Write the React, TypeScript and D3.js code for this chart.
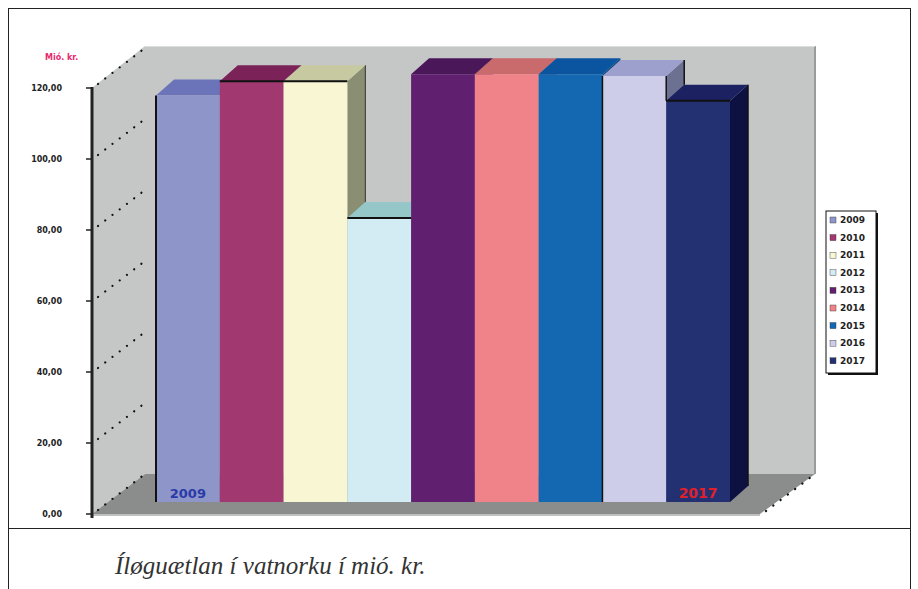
import React from "react";
import * as d3 from "d3";

// Annual hydropower investment, million kr.
const years = ["2009", "2010", "2011", "2012", "2013", "2014", "2015", "2016", "2017"];
const values = [114.5, 118.5, 118.5, 80, 120.5, 120.5, 120.5, 120, 113];
const tickValues = [0, 20, 40, 60, 80, 100, 120];
const tickLabels = ["0,00", "20,00", "40,00", "60,00", "80,00", "100,00", "120,00"];

const frontColors = ["#8e95c9", "#a1386f", "#f9f6d3", "#d3ecf3", "#61206f", "#f08289", "#1468b1", "#cdcde9", "#233172"];
const topColors = ["#6b74b9", "#7b2259", "#c7c9a1", "#95c7c9", "#4a1858", "#c96a6d", "#0b55a0", "#9da0cc", "#1b2161"];
const sideColors = ["#5d6399", "#621b46", "#8a8e72", "#7aa4a6", "#3a1247", "#a85658", "#084680", "#6d7191", "#0d1141"];

const W = 918;
const H = 589;

export default function App() {
  // front plane of the plot box
  const axisX = 92;
  const y = d3.scaleLinear().domain([0, 120]).range([514, 88]);
  // depth of the whole plot box
  const boxDx = 53;
  const boxDy = -40;
  const floorRightX = 760;
  // bars sit partway into the box
  const barShift = { dx: 0, dy: -12 };
  const barDx = 18;
  const barDy = -16;
  const x = d3.scaleBand<string>().domain(years).range([156, 730]).padding(0);
  const by = (v: number) => y(v) + barShift.dy;

  const wallTop = y(120) + boxDy - 2;
  const backX0 = axisX + boxDx;
  const backX1 = floorRightX + 55;
  const floorBack = y(0) + boxDy;

  const pts = (p: [number, number][]) => p.map((q) => q.join(",")).join(" ");

  const dotted = (x1: number, y1: number, x2: number, y2: number, key: string) => (
    <line key={key} x1={x1} y1={y1} x2={x2} y2={y2} stroke="#111" strokeWidth={2.2}
      strokeDasharray="0.1 9" strokeLinecap="round" />
  );

  const legendX = 826;
  const legendY = 211;
  const legendRow = 17.6;

  return (
    <div style={{ position: "absolute", left: 0, top: 0, width: W, height: H }}>
      <svg width={W} height={H} style={{ display: "block", background: "#fff" }}>
        {/* frame */}
        <line x1={8} y1={8.5} x2={911} y2={8.5} stroke="#222" strokeWidth={1} />
        <line x1={8.5} y1={8} x2={8.5} y2={H} stroke="#222" strokeWidth={1} />
        <line x1={910.5} y1={8} x2={910.5} y2={H} stroke="#222" strokeWidth={1} />
        <line x1={8} y1={528.5} x2={911} y2={528.5} stroke="#222" strokeWidth={1} />

        {/* side wall */}
        <polygon points={pts([[axisX, y(120)], [backX0, wallTop], [backX0, floorBack], [axisX, y(0)]])} fill="#c5c7c7" />
        {/* back wall */}
        <polygon points={pts([[backX0, wallTop], [backX1, wallTop], [backX1, floorBack], [backX0, floorBack]])} fill="#c5c7c7" />
        <line x1={backX1} y1={wallTop} x2={backX1} y2={floorBack} stroke="#9a9c9c" strokeWidth={2} />
        <line x1={backX0} y1={wallTop + 0.5} x2={backX1} y2={wallTop + 0.5} stroke="#dcdede" strokeWidth={1} />
        {/* floor */}
        <polygon points={pts([[axisX, y(0)], [floorRightX, y(0)], [backX1, floorBack], [backX0, floorBack]])} fill="#8b8d8d" />
        <line x1={axisX} y1={y(0) + 1} x2={floorRightX} y2={y(0) + 1} stroke="#a8aaaa" strokeWidth={1.5} />

        {/* gridlines along the side wall */}
        {tickValues.map((t) => dotted(axisX + 6, y(t) - 4, backX0, y(t) + boxDy, "g" + t))}
        {dotted(floorRightX + 6, y(0) - 3, backX1, floorBack, "fr")}

        {/* bars */}
        {years.map((yr, i) => {
          const x0 = x(yr)!;
          const x1 = x0 + x.bandwidth();
          const top = by(values[i]);
          const base = by(0);
          return (
            <g key={yr}>
              <polygon points={pts([[x1, base], [x1 + barDx, base + barDy], [x1 + barDx, top + barDy], [x1, top]])} fill={sideColors[i]} />
              <polygon points={pts([[x0, top], [x0 + barDx, top + barDy], [x1 + barDx, top + barDy], [x1, top]])} fill={topColors[i]} />
              <rect x={x0} y={top} width={x.bandwidth()} height={base - top} fill={frontColors[i]} />
            </g>
          );
        })}
        {/* dark bar edges */}
        {(() => {
          const e: React.ReactNode[] = [];
          const x0 = x("2009")!;
          e.push(<line key="e1" x1={x0} y1={by(values[0])} x2={x0} y2={by(0)} stroke="#111" strokeWidth={2} />);
          e.push(<line key="e2" x1={x("2010")!} y1={by(values[1])} x2={x("2011")! + x.bandwidth()} y2={by(values[2])} stroke="#111" strokeWidth={2} />);
          e.push(<line key="e3" x1={x("2012")!} y1={by(values[3])} x2={x("2012")! + x.bandwidth()} y2={by(values[3])} stroke="#111" strokeWidth={2} />);
          e.push(<line key="e4" x1={x("2016")!} y1={by(values[7])} x2={x("2016")!} y2={by(0)} stroke="#111" strokeWidth={1.5} />);
          e.push(<line key="e5" x1={x("2016")! + x.bandwidth()} y1={by(values[7])} x2={x("2016")! + x.bandwidth()} y2={by(values[8])} stroke="#111" strokeWidth={1.5} />);
          e.push(<line key="e6" x1={x("2017")!} y1={by(values[8])} x2={x("2017")! + x.bandwidth()} y2={by(values[8])} stroke="#111" strokeWidth={2} />);
          e.push(<line key="e7" x1={x("2017")! + x.bandwidth() + barDx} y1={by(values[8]) + barDy} x2={x("2017")! + x.bandwidth() + barDx} y2={by(0) + barDy} stroke="#111" strokeWidth={1.5} />);
          e.push(<line key="e8" x1={x("2016")! + x.bandwidth() + barDx} y1={by(values[7]) + barDy} x2={x("2016")! + x.bandwidth() + barDx} y2={by(values[8]) + barDy} stroke="#111" strokeWidth={1.5} />);
          e.push(<line key="e9" x1={x("2011")! + x.bandwidth() + barDx} y1={by(values[2]) + barDy} x2={x("2011")! + x.bandwidth() + barDx} y2={by(values[3]) + barDy} stroke="#333" strokeWidth={1} />);
          return e;
        })()}

        {/* labels in the end bars */}
        <text x={x("2009")! + x.bandwidth() / 2} y={by(0) - 4} textAnchor="middle" fontFamily="DejaVu Sans, sans-serif" fontSize={13} fontWeight="bold" fill="#2a3aa8">2009</text>
        <text x={x("2017")! + x.bandwidth() / 2} y={by(0) - 4} textAnchor="middle" fontFamily="DejaVu Sans, sans-serif" fontSize={14} fontWeight="bold" fill="#e0202a">2017</text>

        {/* value axis */}
        <line x1={axisX} y1={y(120) - 1} x2={axisX} y2={y(0) + 4} stroke="#222" strokeWidth={3} />
        {tickValues.map((t, i) => (
          <g key={"t" + t}>
            <line x1={axisX - 6} y1={y(t)} x2={axisX} y2={y(t)} stroke="#222" strokeWidth={1.5} />
            <text x={axisX - 30} y={y(t) + 3} textAnchor="end" fontFamily="DejaVu Sans, sans-serif" fontSize={8} fontWeight="bold" fill="#222">{tickLabels[i]}</text>
          </g>
        ))}
        <text x={45} y={60} fontFamily="DejaVu Sans, sans-serif" fontSize={8} fontWeight="bold" fill="#e8286e">Mió. kr.</text>

        {/* legend */}
        <rect x={legendX + 2} y={legendY + 2} width={50} height={162} fill="#111" />
        <rect x={legendX} y={legendY} width={50} height={162} fill="#fff" stroke="#111" strokeWidth={1} />
        {years.map((yr, i) => (
          <g key={"l" + yr}>
            <rect x={legendX + 4} y={legendY + 6 + i * legendRow} width={6} height={6} fill={frontColors[i]} stroke="#333" strokeWidth={0.4} />
            <text x={legendX + 14} y={legendY + 12 + i * legendRow} fontFamily="DejaVu Sans, sans-serif" fontSize={9} fontWeight="bold" fill="#222">{yr}</text>
          </g>
        ))}

        {/* caption */}
        <text x={115} y={574} fontFamily="Liberation Serif, serif" fontStyle="italic" fontSize={25} fill="#333">Íløguætlan í vatnorku í mió. kr.</text>
      </svg>
    </div>
  );
}
